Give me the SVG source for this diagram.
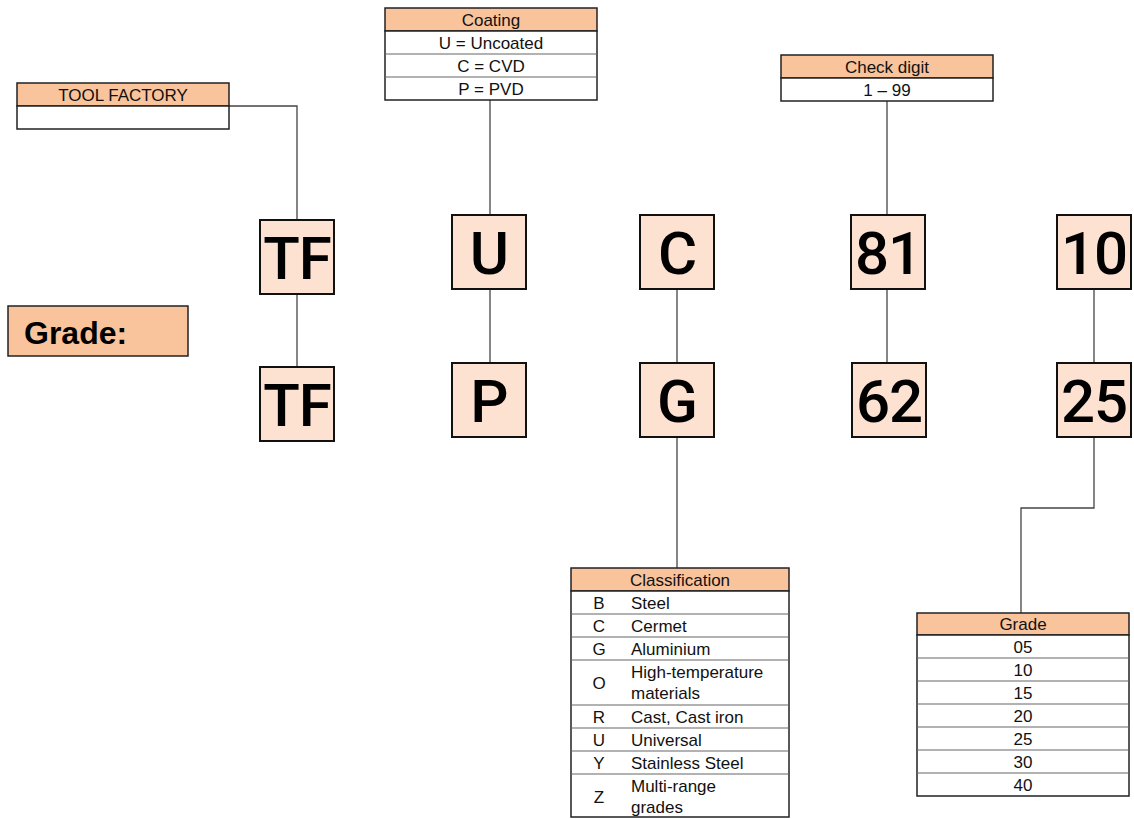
<svg xmlns="http://www.w3.org/2000/svg" width="1134" height="819" viewBox="0 0 1134 819">
<style>
.hd{fill:#F9C39B;stroke:#222;stroke-width:1.5}
.row{fill:#fff;stroke:#222;stroke-width:1.5}
.sep{stroke:#666;stroke-width:1.2}
.t{font-family:"Liberation Sans",Arial,sans-serif;font-size:17px;fill:#111}
.c{text-anchor:middle}
.nd{fill:#FDE1D1;stroke:#111;stroke-width:2}
.big{font-family:Roboto,"Liberation Sans",Arial,sans-serif;font-size:60px;font-weight:500;fill:#000;text-anchor:middle;letter-spacing:-1px}
.cn{fill:none;stroke:#444;stroke-width:1.3}
</style>
<rect width="1134" height="819" fill="#fff"/>
<g id="connectors">
<polyline class="cn" points="229,106 297,106 297,220"/>
<line class="cn" x1="297" y1="294" x2="297" y2="367"/>
<line class="cn" x1="490" y1="100" x2="490" y2="215"/>
<line class="cn" x1="490" y1="289" x2="490" y2="363"/>
<line class="cn" x1="677" y1="289" x2="677" y2="363"/>
<line class="cn" x1="677" y1="437" x2="677" y2="568"/>
<line class="cn" x1="887" y1="101" x2="887" y2="215"/>
<line class="cn" x1="887" y1="289" x2="887" y2="363"/>
<line class="cn" x1="1094" y1="289" x2="1094" y2="363"/>
<polyline class="cn" points="1094,437 1094,508 1021,508 1021,613"/>
</g>
<g id="tool-factory">
<rect class="hd" x="17" y="83" width="212" height="23"/>
<rect class="row" x="17" y="106" width="212" height="23"/>
<text class="t c" x="123" y="101">TOOL FACTORY</text>
</g>
<g id="coating">
<rect class="hd" x="385" y="8" width="212" height="23"/>
<rect class="row" x="385" y="31" width="212" height="69"/>
<line class="sep" x1="385" y1="54" x2="597" y2="54"/>
<line class="sep" x1="385" y1="77" x2="597" y2="77"/>
<text class="t c" x="491" y="26">Coating</text>
<text class="t c" x="491" y="49">U = Uncoated</text>
<text class="t c" x="491" y="72">C = CVD</text>
<text class="t c" x="491" y="95">P = PVD</text>
</g>
<g id="check-digit">
<rect class="hd" x="781" y="55" width="212" height="23"/>
<rect class="row" x="781" y="78" width="212" height="23"/>
<text class="t c" x="887" y="73">Check digit</text>
<text class="t c" x="887" y="96">1 – 99</text>
</g>
<g id="grade-label">
<rect x="8" y="306" width="180" height="50" fill="#F9C39B" stroke="#222" stroke-width="1.5"/>
<text x="24" y="344" font-family="Liberation Sans,Arial,sans-serif" font-size="32" font-weight="bold" fill="#000">Grade:</text>
</g>
<g id="node-TF1"><rect class="nd" x="260" y="220" width="74" height="74"/><text class="big" x="297" y="279">TF</text></g>
<g id="node-TF2"><rect class="nd" x="260" y="367" width="74" height="74"/><text class="big" x="297" y="426">TF</text></g>
<g id="node-U"><rect class="nd" x="452" y="215" width="74" height="74"/><text class="big" x="489" y="274">U</text></g>
<g id="node-P"><rect class="nd" x="452" y="363" width="74" height="74"/><text class="big" x="489" y="422">P</text></g>
<g id="node-C"><rect class="nd" x="640" y="215" width="74" height="74"/><text class="big" x="677" y="274">C</text></g>
<g id="node-G"><rect class="nd" x="640" y="363" width="74" height="74"/><text class="big" x="677" y="422">G</text></g>
<g id="node-81"><rect class="nd" x="851" y="215" width="74" height="74"/><text class="big" x="888" y="274">81</text></g>
<g id="node-62"><rect class="nd" x="852" y="363" width="74" height="74"/><text class="big" x="889" y="422">62</text></g>
<g id="node-10"><rect class="nd" x="1057" y="215" width="74" height="74"/><text class="big" x="1094" y="274">10</text></g>
<g id="node-25"><rect class="nd" x="1057" y="363" width="74" height="74"/><text class="big" x="1094" y="422">25</text></g>
<g id="classification">
<rect class="hd" x="571" y="568" width="218" height="23"/>
<rect class="row" x="571" y="591" width="218" height="226"/>
<line class="sep" x1="571" y1="614" x2="789" y2="614"/>
<line class="sep" x1="571" y1="637" x2="789" y2="637"/>
<line class="sep" x1="571" y1="660" x2="789" y2="660"/>
<line class="sep" x1="571" y1="705" x2="789" y2="705"/>
<line class="sep" x1="571" y1="728" x2="789" y2="728"/>
<line class="sep" x1="571" y1="751" x2="789" y2="751"/>
<line class="sep" x1="571" y1="774" x2="789" y2="774"/>
<text class="t c" x="680" y="586">Classification</text>
<text class="t c" x="599" y="609">B</text><text class="t" x="631" y="609">Steel</text>
<text class="t c" x="599" y="632">C</text><text class="t" x="631" y="632">Cermet</text>
<text class="t c" x="599" y="655">G</text><text class="t" x="631" y="655">Aluminium</text>
<text class="t c" x="599" y="689">O</text><text class="t" x="631" y="678">High-temperature</text><text class="t" x="631" y="699">materials</text>
<text class="t c" x="599" y="723">R</text><text class="t" x="631" y="723">Cast, Cast iron</text>
<text class="t c" x="599" y="746">U</text><text class="t" x="631" y="746">Universal</text>
<text class="t c" x="599" y="769">Y</text><text class="t" x="631" y="769">Stainless Steel</text>
<text class="t c" x="599" y="803">Z</text><text class="t" x="631" y="792">Multi-range</text><text class="t" x="631" y="813">grades</text>
</g>
<g id="grade-table">
<rect class="hd" x="917" y="613" width="212" height="22"/>
<rect class="row" x="917" y="635" width="212" height="161"/>
<line class="sep" x1="917" y1="658" x2="1129" y2="658"/>
<line class="sep" x1="917" y1="681" x2="1129" y2="681"/>
<line class="sep" x1="917" y1="704" x2="1129" y2="704"/>
<line class="sep" x1="917" y1="727" x2="1129" y2="727"/>
<line class="sep" x1="917" y1="750" x2="1129" y2="750"/>
<line class="sep" x1="917" y1="773" x2="1129" y2="773"/>
<text class="t c" x="1023" y="630">Grade</text>
<text class="t c" x="1023" y="653">05</text>
<text class="t c" x="1023" y="676">10</text>
<text class="t c" x="1023" y="699">15</text>
<text class="t c" x="1023" y="722">20</text>
<text class="t c" x="1023" y="745">25</text>
<text class="t c" x="1023" y="768">30</text>
<text class="t c" x="1023" y="791">40</text>
</g>
</svg>
